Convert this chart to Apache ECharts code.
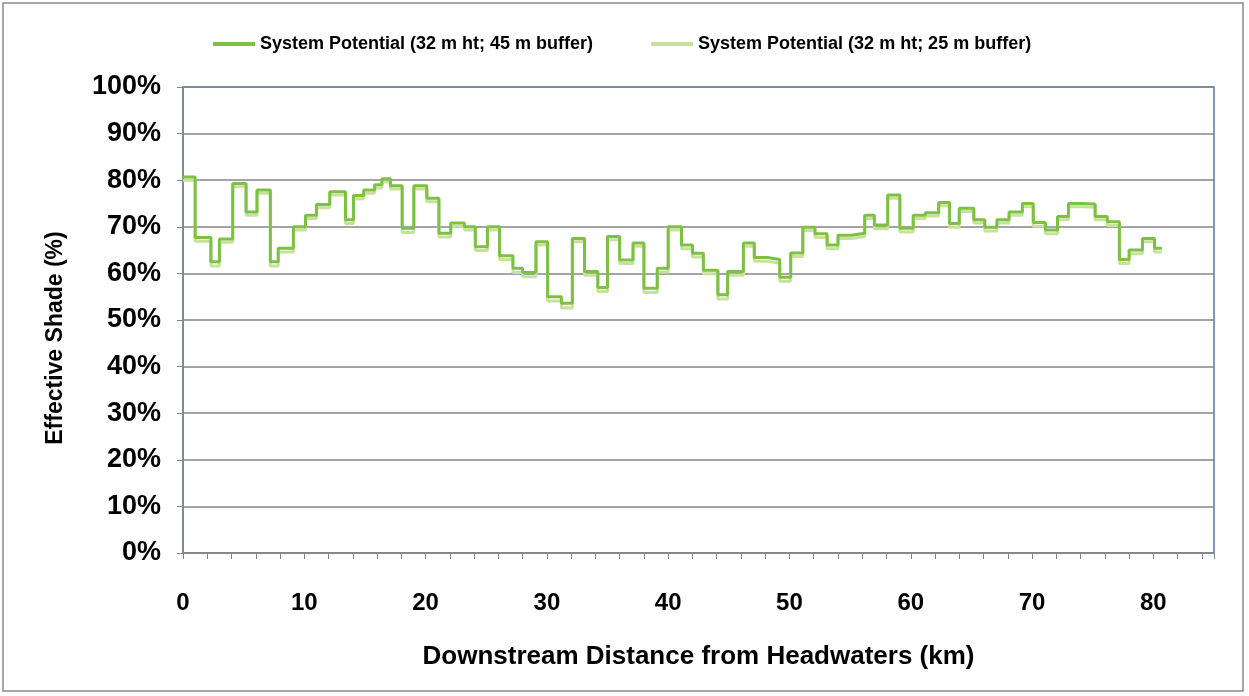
<!DOCTYPE html>
<html>
<head>
<meta charset="utf-8">
<script src="https://cdn.jsdelivr.net/npm/echarts@6/dist/echarts.min.js"></script>
<style>
  html, body { margin: 0; padding: 0; background: #fff; }
  #chart { width: 1249px; height: 696px; }
</style>
</head>
<body>
<div id="chart"></div>
<script>
// step start positions (km) and values (%)
var km = [0, 1.0, 2.3, 3.0, 4.1, 5.2, 6.1, 7.2, 7.85, 9.1, 10.1, 11.0, 12.1, 13.4, 14.05, 14.9, 15.8, 16.4, 17.1, 18.07,
    19.03, 20.1, 21.1, 22.07, 23.2, 24.1, 25.1, 26.1, 27.2, 28.0, 29.1, 30.06, 31.2, 32.1, 33.1, 34.2, 35.0, 36.0, 37.1, 38.0,
    39.1, 40.0, 41.1, 42.0, 42.9, 44.1, 44.9, 46.2, 47.1, 48.2, 49.2, 50.1, 51.1, 52.1, 53.1, 54.0, 55.1, 56.2, 57.0, 58.1,
    59.1, 60.2, 61.2, 62.3, 63.2, 64.0, 65.2, 66.1, 67.1, 68.1, 69.2, 70.1, 71.1, 72.1, 73.0, 74.1, 75.2, 76.2, 77.2, 78.0,
    79.1, 80.1, 80.7];
var buffer45 = [80.7, 67.7, 62.5, 67.4, 79.3, 73.2, 77.9, 62.5, 65.4, 70.0, 72.5, 74.8, 77.5, 71.5, 76.7, 77.9, 79.0, 80.3, 78.8, 69.7,
    78.8, 76.1, 68.6, 70.8, 70.0, 65.7, 70.0, 63.8, 61.1, 60.2, 66.8, 55.0, 53.6, 67.5, 60.4, 57.0, 67.9, 62.9, 66.5, 56.8,
    61.1, 70.0, 66.1, 64.3, 60.7, 55.4, 60.4, 66.5, 63.4, 63.0, 59.2, 64.4, 69.9, 68.5, 66.1, 68.2, 68.6, 72.5, 70.4, 76.8,
    69.7, 72.5, 73.0, 75.2, 70.7, 74.0, 71.5, 69.9, 71.5, 73.2, 75.0, 70.9, 69.3, 72.2, 75.0, 74.9, 72.2, 71.1, 63.0, 65.0,
    67.5, 65.4, 65.4];
var buffer25 = [80.0, 66.9, 61.6, 66.7, 78.6, 72.5, 77.2, 61.6, 64.6, 69.3, 71.8, 74.1, 76.8, 70.7, 76.0, 77.2, 78.3, 79.6, 78.1, 68.8,
    78.1, 75.4, 67.8, 70.1, 69.3, 64.9, 69.3, 63.0, 60.2, 59.3, 66.1, 54.1, 52.6, 66.8, 59.6, 56.1, 67.2, 62.1, 65.8, 55.9,
    60.3, 69.3, 65.3, 63.5, 59.9, 54.5, 59.6, 65.8, 62.6, 62.2, 58.3, 63.6, 69.2, 67.7, 65.3, 67.5, 67.9, 71.8, 69.6, 76.1,
    68.9, 71.8, 72.3, 74.5, 69.9, 73.3, 70.8, 69.1, 70.8, 72.5, 74.3, 70.1, 68.5, 71.5, 74.3, 74.2, 71.5, 70.3, 62.1, 64.2,
    66.8, 64.6, 64.6];
var seriesNames = ['System Potential (32 m ht; 45 m buffer)', 'System Potential (32 m ht; 25 m buffer)'];

var chart = echarts.init(document.getElementById('chart'));

function pairs(vals) {
    return km.map(function (x, i) { return [x, vals[i]]; });
}

var boldFont = 'Liberation Sans, Arial, sans-serif';

var option = {
    animation: false,
    backgroundColor: '#fff',
    graphic: [{
        type: 'rect',
        shape: { x: 3, y: 3, width: 1240, height: 688 },
        style: { fill: 'none', stroke: '#8c8c8c', lineWidth: 1.5 },
        silent: true
    }],
    legend: {
        top: 30,
        left: 208,
        itemGap: 58,
        itemWidth: 42,
        itemHeight: 4,
        icon: 'rect',
        textStyle: { fontFamily: boldFont, fontWeight: 'bold', fontSize: 18, color: '#000' },
        data: seriesNames
    },
    grid: {
        left: 183,
        right: 35,
        top: 87,
        bottom: 143,
        show: true,
        borderColor: '#4a7ebb',
        borderWidth: 1.5
    },
    xAxis: {
        type: 'value',
        min: 0,
        max: 85,
        interval: 2,
        name: 'Downstream Distance from Headwaters (km)',
        nameLocation: 'middle',
        nameGap: 91,
        nameTextStyle: { fontFamily: boldFont, fontWeight: 'bold', fontSize: 26, color: '#000' },
        axisLine: { lineStyle: { color: '#868686', width: 1.5 } },
        axisTick: { show: true, length: 6, lineStyle: { color: '#868686' } },
        axisLabel: {
            margin: 38,
            fontFamily: boldFont, fontWeight: 'bold', fontSize: 24, color: '#000',
            formatter: function (v) { return v % 10 === 0 ? String(v) : ''; }
        },
        splitLine: { show: false }
    },
    yAxis: {
        type: 'value',
        min: 0,
        max: 100,
        interval: 10,
        name: 'Effective Shade (%)',
        nameLocation: 'middle',
        nameGap: 116,
        nameTextStyle: {
            fontFamily: boldFont, fontWeight: 'bold', fontSize: 23, color: '#000',
            padding: [0, 36, 0, 0]
        },
        axisLine: { show: true, lineStyle: { color: '#868686', width: 1.5 } },
        axisTick: { show: true, length: 6, lineStyle: { color: '#868686' } },
        axisLabel: {
            margin: 22,
            fontFamily: boldFont, fontWeight: 'bold', fontSize: 27, color: '#000',
            formatter: '{value}%'
        },
        splitLine: { lineStyle: { color: '#868686', width: 1.5 } }
    },
    series: [{
        name: seriesNames[0],
        type: 'line',
        step: 'end',
        symbol: 'none',
        z: 3,
        color: '#7cc142',
        lineStyle: { width: 3, color: '#7cc142' },
        data: pairs(buffer45)
    }, {
        name: seriesNames[1],
        type: 'line',
        step: 'end',
        symbol: 'none',
        z: 2,
        color: '#c8e29e',
        lineStyle: { width: 3, color: '#c8e29e' },
        data: pairs(buffer25)
    }]
};
chart.setOption(option);
</script>
</body>
</html>
